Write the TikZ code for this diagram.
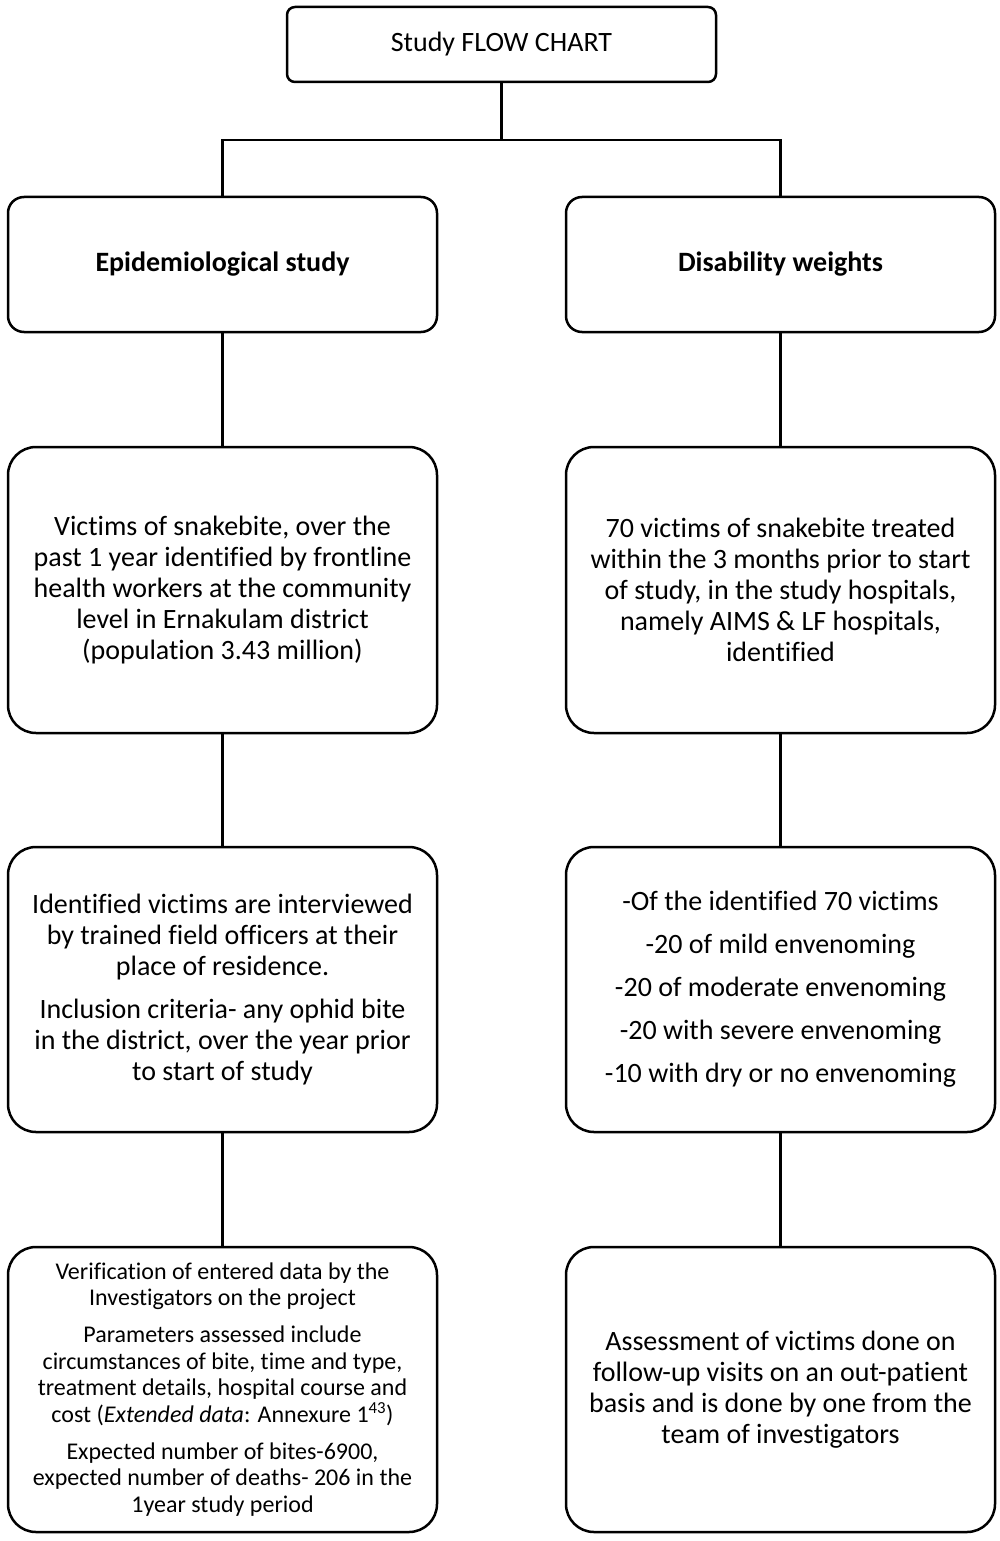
\documentclass[tikz,border=0pt]{standalone}
\usepackage{fontspec}
\setmainfont{Carlito}[Ligatures=NoCommon]
\begin{document}
\begin{tikzpicture}[x=1pt,y=-1pt,
  box/.style={draw, line width=2.5pt, inner sep=0pt, align=center,
    minimum width=429pt},
  bodytext/.style={font=\fontsize{28}{31}\selectfont},
  smalltext/.style={font=\fontsize{24}{26.5}\selectfont},
  conn/.style={line width=2.5pt}]
\useasboundingbox (0,0) rectangle (1000,1541);
\node[box, rounded corners=8pt, minimum height=75pt, bodytext] (top) at (501.5,44.5) {Study FLOW CHART};
\node[box, rounded corners=16pt, minimum height=135pt, bodytext] (e1) at (222.5,264.5) {\bfseries Epidemiological study};
\node[box, rounded corners=16pt, minimum height=135pt, bodytext] (d1) at (780.5,264.5) {\bfseries Disability weights};
\node[box, rounded corners=28pt, minimum height=286pt, bodytext] (e2) at (222.5,590) {Victims of snakebite, over the\\ past 1 year identified by frontline\\ health workers at the community\\ level in Ernakulam district\\ (population 3.43 million)};
\node[box, rounded corners=28pt, minimum height=286pt, bodytext] (d2) at (780.5,590) {70 victims of snakebite treated\\ within the 3 months prior to start\\ of study, in the study hospitals,\\ namely AIMS \& LF hospitals,\\ identified};
\node[box, rounded corners=28pt, minimum height=285pt, bodytext] (e3) at (222.5,989.5) {Identified victims are interviewed\\ by trained field officers at their\\ place of residence.\\[12pt] Inclusion criteria- any ophid bite\\ in the district, over the year prior\\ to start of study};
\node[box, rounded corners=28pt, minimum height=285pt, bodytext] (d3) at (780.5,989.5) {-Of the identified 70 victims\\[12pt] -20 of mild envenoming\\[12pt] -20 of moderate envenoming\\[12pt] -20 with severe envenoming\\[12pt] -10 with dry or no envenoming};
\node[box, rounded corners=28pt, minimum height=285pt, smalltext] (e4) at (222.5,1389.5) {Verification of entered data by the\\ Investigators on the project\\[10.5pt] Parameters assessed include\\ circumstances of bite, time and type,\\ treatment details, hospital course and\\ cost (\textit{Extended data}: Annexure 1\textsuperscript{43})\\[10.5pt] Expected number of bites-6900,\\ expected number of deaths- 206 in the\\ 1year study period};
\node[box, rounded corners=28pt, minimum height=285pt, bodytext] (d4) at (780.5,1389.5) {Assessment of victims done on\\ follow-up visits on an out-patient\\ basis and is done by one from the\\ team of investigators};
\coordinate (j) at (501.5,140);
\draw[conn] (top.south) -- (j);
\draw[conn] (e1.north) |- (j) -| (d1.north);
\draw[conn] (e1.south) -- (e2.north);
\draw[conn] (e2.south) -- (e3.north);
\draw[conn] (e3.south) -- (e4.north);
\draw[conn] (d1.south) -- (d2.north);
\draw[conn] (d2.south) -- (d3.north);
\draw[conn] (d3.south) -- (d4.north);
\end{tikzpicture}
\end{document}
